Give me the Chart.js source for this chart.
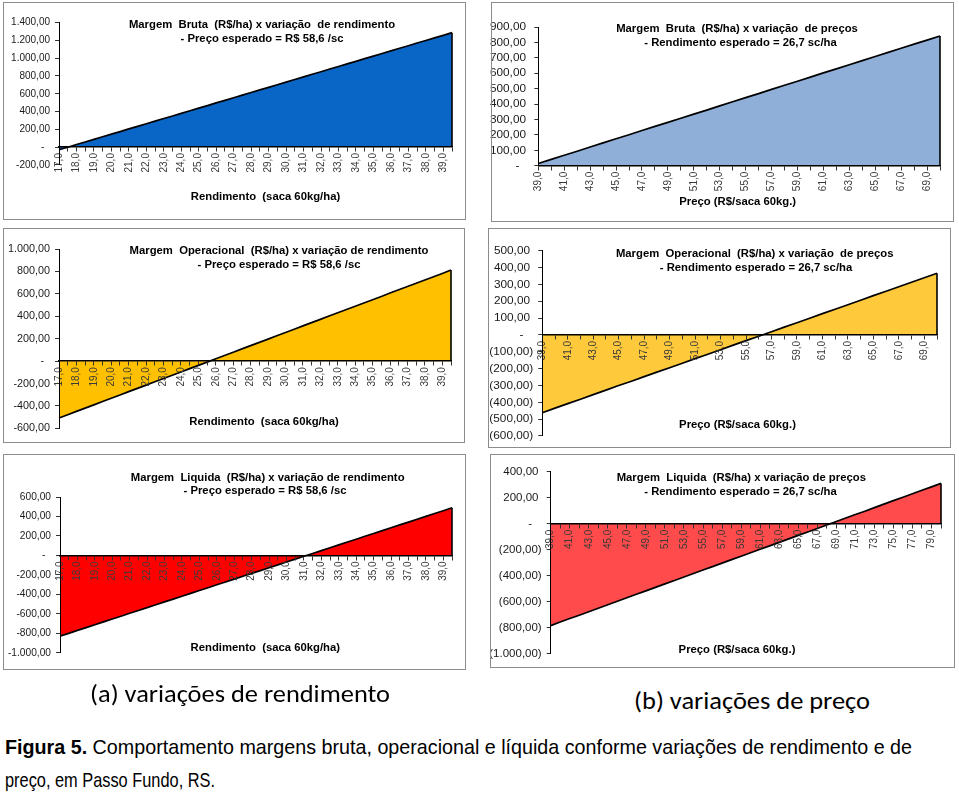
<!DOCTYPE html>
<html>
<head>
<meta charset="utf-8">
<script src="https://cdn.jsdelivr.net/npm/chart.js@4/dist/chart.umd.min.js"></script>
<style>
  body { margin: 0; background: #fff; width: 959px; height: 793px; position: relative; overflow: hidden;
         font-family: "Liberation Sans", Arial, sans-serif; }
  canvas { position: absolute; }
  .frame { position: absolute; box-sizing: border-box; border: 1px solid #8c8c8c; pointer-events: none; }
  .t { position: absolute; white-space: pre; font-weight: bold; font-size: 11.3px; line-height: 1;
       color: #000; transform: translate(-50%, -50%); }
  .fit { position: absolute; white-space: pre; line-height: 1; transform-origin: left top; color: #000; }
  .sub { font-family: Carlito, Lato, "Open Sans", sans-serif; font-size: 25px; }
  .cap { font-family: "Liberation Sans Narrow", "Liberation Sans", Arial, sans-serif; font-size: 21px; }
</style>
</head>
<body>
<script>
// categorias
const rendimento = [17, 17.5, 18, 18.5, 19, 19.5, 20, 20.5, 21, 21.5, 22, 22.5, 23, 23.5, 24, 24.5,
  25, 25.5, 26, 26.5, 27, 27.5, 28, 28.5, 29, 29.5, 30, 30.5, 31, 31.5, 32, 32.5, 33, 33.5,
  34, 34.5, 35, 35.5, 36, 36.5, 37, 37.5, 38, 38.5, 39, 39.5];
const preco = [39, 40, 41, 42, 43, 44, 45, 46, 47, 48, 49, 50, 51, 52, 53, 54, 55, 56, 57, 58,
  59, 60, 61, 62, 63, 64, 65, 66, 67, 68, 69, 70];
const precoLiq = [39, 40, 41, 42, 43, 44, 45, 46, 47, 48, 49, 50, 51, 52, 53, 54, 55, 56, 57, 58,
  59, 60, 61, 62, 63, 64, 65, 66, 67, 68, 69, 70, 71, 72, 73, 74, 75, 76, 77, 78, 79, 80];

// margens (R$/ha) x rendimento, preco 58,6
const mbRend = [-31, -2, 28, 57, 86, 116, 145, 174, 204, 233, 262, 292, 321, 350, 379, 409, 438, 467,
  497, 526, 555, 585, 614, 643, 672, 702, 731, 760, 790, 819, 848, 878, 907, 936, 965, 995, 1024,
  1053, 1083, 1112, 1141, 1171, 1200, 1229, 1258, 1288];
const moRend = [-507, -478, -448, -419, -390, -360, -331, -302, -272, -243, -214, -184, -155, -126,
  -97, -67, -38, -9, 21, 50, 79, 109, 138, 167, 196, 226, 255, 284, 314, 343, 372, 402, 431, 460,
  489, 519, 548, 577, 607, 636, 665, 695, 724, 753, 782, 812];
const mlRend = [-830, -801, -771, -742, -713, -683, -654, -625, -595, -566, -537, -507, -478, -449,
  -420, -390, -361, -332, -302, -273, -244, -214, -185, -156, -127, -97, -68, -39, -9, 20, 49, 79,
  108, 137, 166, 196, 225, 254, 284, 313, 342, 372, 401, 430, 459, 489];

// margens (R$/ha) x preco, rendimento 26,7
const mbPreco = [14, 41, 68, 94, 121, 148, 175, 201, 228, 255, 281, 308, 335, 361, 388, 415, 442,
  468, 495, 522, 548, 575, 602, 628, 655, 682, 709, 735, 762, 789, 815, 842];
const moPreco = [-462, -435, -408, -382, -355, -328, -301, -275, -248, -221, -195, -168, -141, -115,
  -88, -61, -34, -8, 19, 46, 72, 99, 126, 152, 179, 206, 233, 259, 286, 313, 339, 366];
const mlPreco = [-785, -758, -731, -705, -678, -651, -624, -598, -571, -544, -518, -491, -464, -438,
  -411, -384, -357, -331, -304, -277, -251, -224, -197, -171, -144, -117, -90, -64, -37, -10, 16,
  43, 70, 96, 123, 150, 177, 203, 230, 257, 283, 310];

// ticks do eixo y
const ticksMbRend = [-200, 0, 200, 400, 600, 800, 1000, 1200, 1400];
const ticksMoRend = [-600, -400, -200, 0, 200, 400, 600, 800, 1000];
const ticksMlRend = [-1000, -800, -600, -400, -200, 0, 200, 400, 600];
const ticksMbPreco = [0, 100, 200, 300, 400, 500, 600, 700, 800, 900];
const ticksMoPreco = [-600, -500, -400, -300, -200, -100, 0, 100, 200, 300, 400, 500];
const ticksMlPreco = [-1000, -800, -600, -400, -200, 0, 200, 400];

const FONT = '"Liberation Sans", Arial, sans-serif';
const EXT = 14; // canvas passa um pouco da moldura a esquerda

function num(v) {
  const s = Math.abs(v).toFixed(2).split('.');
  return s[0].replace(/\B(?=(\d{3})+(?!\d))/g, '.') + ',' + s[1];
}
const fmtA = v => v === 0 ? '-  ' : (v < 0 ? '-' : '') + num(v);
const fmtB = v => v === 0 ? '-   ' : v < 0 ? '(' + num(v) + ')' : num(v) + ' ';

const panels = [
  { box: [3, 2, 466, 220], plot: [59, 457, 22.7, 164.8], cats: rendimento, vals: mbRend, ticks: ticksMbRend,
    color: '#0966c6', yFont: 10, fmt: fmtA,
    title: ['Margem  Bruta  (R$/ha) x variação  de rendimento', '- Preço esperado = R$ 58,6 /sc'],
    tpos: [[262, 25], [262, 39]], xt: 'Rendimento  (saca 60kg/ha)', xpos: [265.5, 197] },
  { box: [3, 228, 465, 443], plot: [59, 455.7, 249, 428.4], cats: rendimento, vals: moRend, ticks: ticksMoRend,
    color: '#ffc000', yFont: 10.8, fmt: fmtA,
    title: ['Margem  Operacional  (R$/ha) x variação de rendimento', '- Preço esperado = R$ 58,6 /sc'],
    tpos: [[279, 251], [279, 265]], xt: 'Rendimento  (saca 60kg/ha)', xpos: [264, 422] },
  { box: [3, 454, 466, 670], plot: [60, 456.7, 497, 652.7], cats: rendimento, vals: mlRend, ticks: ticksMlRend,
    color: '#ff0000', yFont: 10.2, fmt: fmtA,
    title: ['Margem  Liquida  (R$/ha) x variação de rendimento', '- Preço esperado = R$ 58,6 /sc'],
    tpos: [[267.7, 477.7], [265, 491.3]], xt: 'Rendimento  (saca 60kg/ha)', xpos: [265.3, 648.3] },
  { box: [491, 2, 954, 222], plot: [538.3, 945, 27, 165.7], cats: preco, vals: mbPreco, ticks: ticksMbPreco,
    color: '#8fafd8', yFont: 11.8, fmt: fmtB,
    title: ['Margem  Bruta  (R$/ha) x variação  de preços', '- Rendimento esperado = 26,7 sc/ha'],
    tpos: [[737, 29], [740.5, 43]], xt: 'Preço (R$/saca 60kg.)', xpos: [737.7, 201.7] },
  { box: [488, 228, 951, 448], plot: [542.3, 944.3, 250.7, 438.4], cats: preco, vals: moPreco, ticks: ticksMoPreco,
    color: '#ffc93c', yFont: 11.8, fmt: fmtB,
    title: ['Margem  Operacional  (R$/ha) x variação  de preços', '- Rendimento esperado = 26,7 sc/ha'],
    tpos: [[754.7, 253.7], [756, 267.7]], xt: 'Preço (R$/saca 60kg.)', xpos: [737.5, 425] },
  { box: [490, 454, 955, 668], plot: [550.7, 944.3, 471.7, 653.5], cats: precoLiq, vals: mlPreco, ticks: ticksMlPreco,
    color: '#ff4b4b', yFont: 11.5, fmt: fmtB,
    title: ['Margem  Liquida  (R$/ha) x variação de preços', '- Rendimento esperado = 26,7 sc/ha'],
    tpos: [[741.3, 478.3], [740.5, 492.3]], xt: 'Preço (R$/saca 60kg.)', xpos: [737, 650] }
];

// linha vertical no fim da area (contorno do Excel)
const edgeLine = {
  id: 'edgeLine',
  afterDatasetsDraw(chart) {
    const pts = chart.getDatasetMeta(0).data;
    const last = pts[pts.length - 1];
    const y0 = chart.scales.y.getPixelForValue(0);
    const ctx = chart.ctx;
    ctx.save();
    ctx.strokeStyle = '#000';
    ctx.lineWidth = 1.6;
    ctx.beginPath();
    ctx.moveTo(last.x, last.y);
    ctx.lineTo(last.x, y0);
    ctx.stroke();
    ctx.restore();
  }
};

function addText(cls, text, x, y) {
  const d = document.createElement('div');
  d.className = cls;
  d.textContent = text;
  d.style.left = x + 'px';
  d.style.top = y + 'px';
  document.body.appendChild(d);
  return d;
}

panels.forEach(p => {
  const [L, T, R, B] = p.box;
  const [x0, x1, yTop, yBot] = p.plot;
  const cl = Math.max(0, L - EXT);
  const yw = x0 - cl;
  const cv = document.createElement('canvas');
  cv.width = R - cl;
  cv.height = B - T;
  cv.style.left = cl + 'px';
  cv.style.top = T + 'px';
  document.body.appendChild(cv);

  new Chart(cv, {
    type: 'line',
    data: {
      labels: p.cats,
      datasets: [{
        data: p.vals,
        borderColor: '#000',
        borderWidth: 1.7,
        backgroundColor: p.color,
        fill: 'origin',
        pointRadius: 0,
        tension: 0
      }]
    },
    options: {
      responsive: false,
      animation: false,
      devicePixelRatio: 1,
      layout: { padding: { left: 0, right: R - x1, top: yTop - T, bottom: B - yBot } },
      plugins: { legend: { display: false }, tooltip: { enabled: false } },
      scales: {
        x: {
          type: 'category',
          position: { y: 0 },
          offset: false,
          grid: { drawOnChartArea: false, tickLength: 4, color: '#333', z: 1, offset: false },
          border: { color: '#000', width: 1.5, z: 1 },
          ticks: {
            autoSkip: false, minRotation: 90, maxRotation: 90, padding: 2, z: 1,
            color: '#3a3a3a', font: { size: 10, family: FONT },
            callback: (v, i) => i % 2 ? '' : p.cats[i].toFixed(1).replace('.', ',')
          }
        },
        y: {
          min: p.ticks[0],
          max: p.ticks[p.ticks.length - 1],
          afterBuildTicks: s => { s.ticks = p.ticks.map(v => ({ value: v })); },
          afterFit: s => { s.width = yw; },
          grid: { drawOnChartArea: false, tickLength: 4, color: '#333' },
          border: { color: '#000', width: 1, z: 1 },
          ticks: { autoSkip: false, padding: 5, color: '#1a1a1a', font: { size: p.yFont, family: FONT },
                   callback: v => p.fmt(v) }
        }
      }
    },
    plugins: [edgeLine]
  });

  const fr = document.createElement('div');
  fr.className = 'frame';
  fr.style.left = L + 'px';
  fr.style.top = T + 'px';
  fr.style.width = (R - L) + 'px';
  fr.style.height = (B - T) + 'px';
  document.body.appendChild(fr);

  addText('t', p.title[0], p.tpos[0][0], p.tpos[0][1]);
  addText('t', p.title[1], p.tpos[1][0], p.tpos[1][1]);
  addText('t', p.xt, p.xpos[0], p.xpos[1]);
});

// legendas inferiores
const fits = [
  [addText('fit sub', '(a) variações de rendimento', 90, 681), 300],
  [addText('fit sub', '(b) variações de preço', 634, 688), 236],
  [addText('fit cap', '', 5, 736), 907],
  [addText('fit cap', 'preço, em Passo Fundo, RS.', 5, 769), 210]
];
fits[2][0].innerHTML = '<b>Figura 5.</b> Comportamento margens bruta, operacional e líquida conforme variações de rendimento e de';
fits.forEach(([el, w]) => {
  const cur = el.getBoundingClientRect().width;
  el.style.transform = 'scaleX(' + (w / cur) + ')';
});
</script>
</body>
</html>
